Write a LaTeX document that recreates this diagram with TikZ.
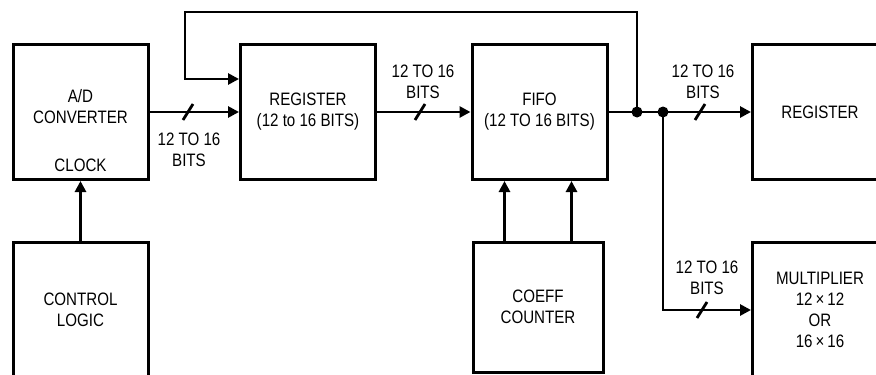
\documentclass[tikz,border=0pt]{standalone}
\usepackage{fontspec}
\setmainfont{Liberation Sans}[FakeStretch=0.84]
\usetikzlibrary{arrows.meta}

\begin{document}
\begin{tikzpicture}[x=1pt, y=-1pt, every node/.style={font=\fontsize{18}{21}\selectfont, align=center},
	blk/.style={draw, line width=3pt, minimum width=135pt, minimum height=135pt, inner sep=0pt},
	wire/.style={line width=2.8pt},
	sig/.style={wire, -{Triangle[length=11pt,width=11pt]}}]
	\clip (0,0) rectangle (876,375);
	\node[blk] (adc) at (80.5,112) {};
	\node (adctxt) at (80.5,107) {A/D\\CONVERTER};
	\node (clk) at (80.5,165) {CLOCK};
	\node[blk] (reg) at (308,112) {REGISTER\\(12 to 16 BITS)};
	\node[blk] (fifo) at (539.5,112) {FIFO\\(12 TO 16 BITS)};
	\node[blk] (regout) at (820,112) {REGISTER};
	\node[blk] (ctrl) at (80.5,310) {CONTROL\\LOGIC};
	\node[blk, minimum width=130pt, minimum height=130pt] (coeff) at (538,307) {COEFF\\COUNTER};
	\node[blk] (mult) at (820,310) {MULTIPLIER\\12\,×\,12\\OR\\16\,×\,16};
	\coordinate (j1) at (637,112);
	\coordinate (j2) at (663,112);
	\coordinate (fb) at (185,12);
	\draw[sig] (adc.east) -- (reg.west);
	\draw[sig] (reg.east) -- (fifo.west);
	\draw[sig] (fifo.east) -- (regout.west);
	\draw[sig] (j1) |- (fb) |- ([yshift=33pt]reg.west);
	\draw[sig] (j2) |- (mult.west);
	\draw[sig] (ctrl.north) -- (adc.south);
	\draw[sig] ([xshift=-33.5pt]coeff.north) -- ([xshift=-33.5pt]coeff.north |- fifo.south);
	\draw[sig] ([xshift=33.5pt]coeff.north) -- ([xshift=33.5pt]coeff.north |- fifo.south);
	\fill (j1) circle (5.5pt) (j2) circle (5.5pt);
	\foreach \x/\y in {188/112, 420/112, 700/112, 702/310}
		\draw[wire] (\x-5,\y+8) -- (\x+5,\y-8);
	\node (bits1) at (189,150) {12 TO 16\\BITS};
	\node (bits2) at (423,82) {12 TO 16\\BITS};
	\node (bits3) at (703,82) {12 TO 16\\BITS};
	\node (bits4) at (707,278) {12 TO 16\\BITS};
\end{tikzpicture}
\end{document}
